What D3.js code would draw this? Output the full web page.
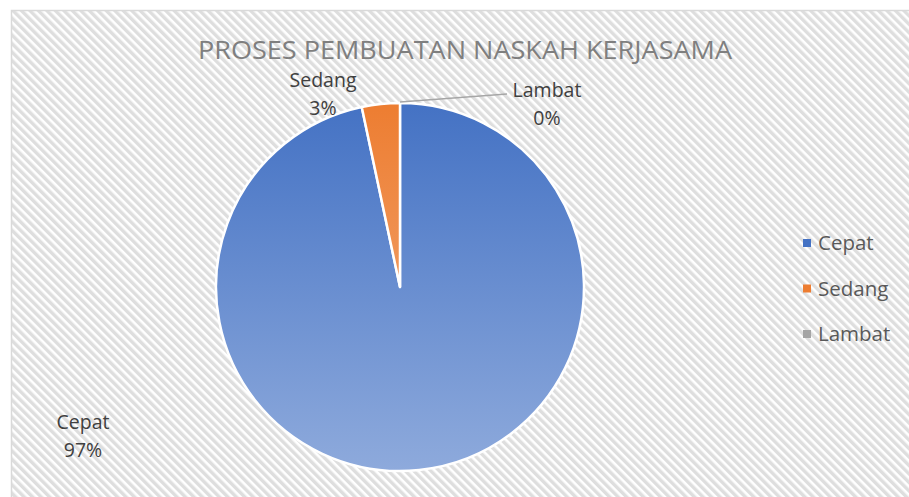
<!DOCTYPE html>
<html>
<head>
<meta charset="utf-8">
<script src="https://cdn.jsdelivr.net/npm/d3@7"></script>
<style>
  body { margin: 0; background: #fff; }
  svg { display: block; font-family: "Open Sans", "Noto Sans", sans-serif; }
</style>
</head>
<body>
<script>
// chart data
const categories = ["Cepat", "Sedang", "Lambat"];
const values = [29, 1, 0];
const percentLabels = ["97%", "3%", "0%"];
const colorsTop = ["#4472c4", "#ed7d31", "#a5a5a5"];
const colorsBottom = ["#8eaadc", "#f4b183", "#c9c9c9"];

const svgWidth = 909;
const svgHeight = 497;
const cx = 400, cy = 287, radius = 184;

const svg = d3.select("body")
  .append("svg")
  .attr("width", svgWidth)
  .attr("height", svgHeight);

const defs = svg.append("defs");

// diagonal stripe background
const pat = defs.append("pattern")
  .attr("id", "stripes")
  .attr("patternUnits", "userSpaceOnUse")
  .attr("width", 6)
  .attr("height", 6)
  .attr("patternTransform", "rotate(-45)");
pat.append("rect").attr("width", 6).attr("height", 6).attr("fill", "#ffffff");
pat.append("rect").attr("width", 3.4).attr("height", 6).attr("fill", "#dedede");

// gradients for slices (in the pie group's coordinates)
categories.forEach((c, i) => {
  const g = defs.append("linearGradient")
    .attr("id", "grad" + i)
    .attr("gradientUnits", "userSpaceOnUse")
    .attr("x1", 0).attr("y1", -radius)
    .attr("x2", 0).attr("y2", radius);
  g.append("stop").attr("offset", "0%").attr("stop-color", colorsTop[i]);
  g.append("stop").attr("offset", "100%").attr("stop-color", colorsBottom[i]);
});

svg.append("rect")
  .attr("x", 11.5)
  .attr("y", 10.5)
  .attr("width", svgWidth)
  .attr("height", svgHeight)
  .attr("fill", "url(#stripes)")
  .attr("stroke", "#d9d9d9")
  .attr("stroke-width", 1.5);

// title
svg.append("text")
  .attr("x", 465)
  .attr("y", 59)
  .attr("text-anchor", "middle")
  .attr("textLength", 534)
  .attr("lengthAdjust", "spacingAndGlyphs")
  .style("font-size", "25px")
  .style("fill", "#7f7f7f")
  .text("PROSES PEMBUATAN NASKAH KERJASAMA");

// pie
const pie = d3.pie().sort(null).value(d => d.value);
const arcs = pie(categories.map((c, i) => ({ name: c, value: values[i], idx: i })));
const arc = d3.arc().innerRadius(0).outerRadius(radius);

const chartGroup = svg.append("g")
  .attr("transform", `translate(${cx},${cy})`);

chartGroup.selectAll("path")
  .data(arcs.filter(d => d.data.value > 0))
  .join("path")
  .attr("d", arc)
  .attr("fill", d => `url(#grad${d.data.idx})`)
  .attr("stroke", "#ffffff")
  .attr("stroke-width", 2.5)
  .attr("stroke-linejoin", "round");

// data labels (Excel best-fit positions)
const labelPos = [
  { x: 83, y: 429 },
  { x: 323, y: 87 },
  { x: 547, y: 97 }
];

const labels = svg.append("g").style("fill", "#404040").style("font-size", "19.5px");
categories.forEach((c, i) => {
  const t = labels.append("text")
    .attr("x", labelPos[i].x)
    .attr("y", labelPos[i].y)
    .attr("text-anchor", "middle");
  t.append("tspan").attr("x", labelPos[i].x).text(c);
  t.append("tspan").attr("x", labelPos[i].x).attr("dy", 28).text(percentLabels[i]);
});

// leader line for Lambat (zero slice)
const zeroArc = arcs[2];
const lp = [Math.sin(zeroArc.startAngle) * radius + cx, -Math.cos(zeroArc.startAngle) * radius + cy];
svg.append("polyline")
  .attr("points", `${lp[0]},${lp[1] - 1} 507,94`)
  .attr("fill", "none")
  .attr("stroke", "#a6a6a6")
  .attr("stroke-width", 1.5);

// legend
const legend = svg.append("g")
  .attr("class", "legend")
  .attr("transform", "translate(803,243)");

legend.selectAll("rect")
  .data(categories)
  .join("rect")
  .attr("x", 0)
  .attr("y", (d, i) => i * 45.5 - 4)
  .attr("width", 8)
  .attr("height", 8)
  .style("fill", (d, i) => colorsTop[i]);

legend.selectAll("text")
  .data(categories)
  .join("text")
  .attr("x", 15)
  .attr("y", (d, i) => i * 45.5)
  .attr("dy", "0.35em")
  .style("font-size", "20.5px")
  .style("fill", "#595959")
  .text(d => d);
</script>
</body>
</html>
